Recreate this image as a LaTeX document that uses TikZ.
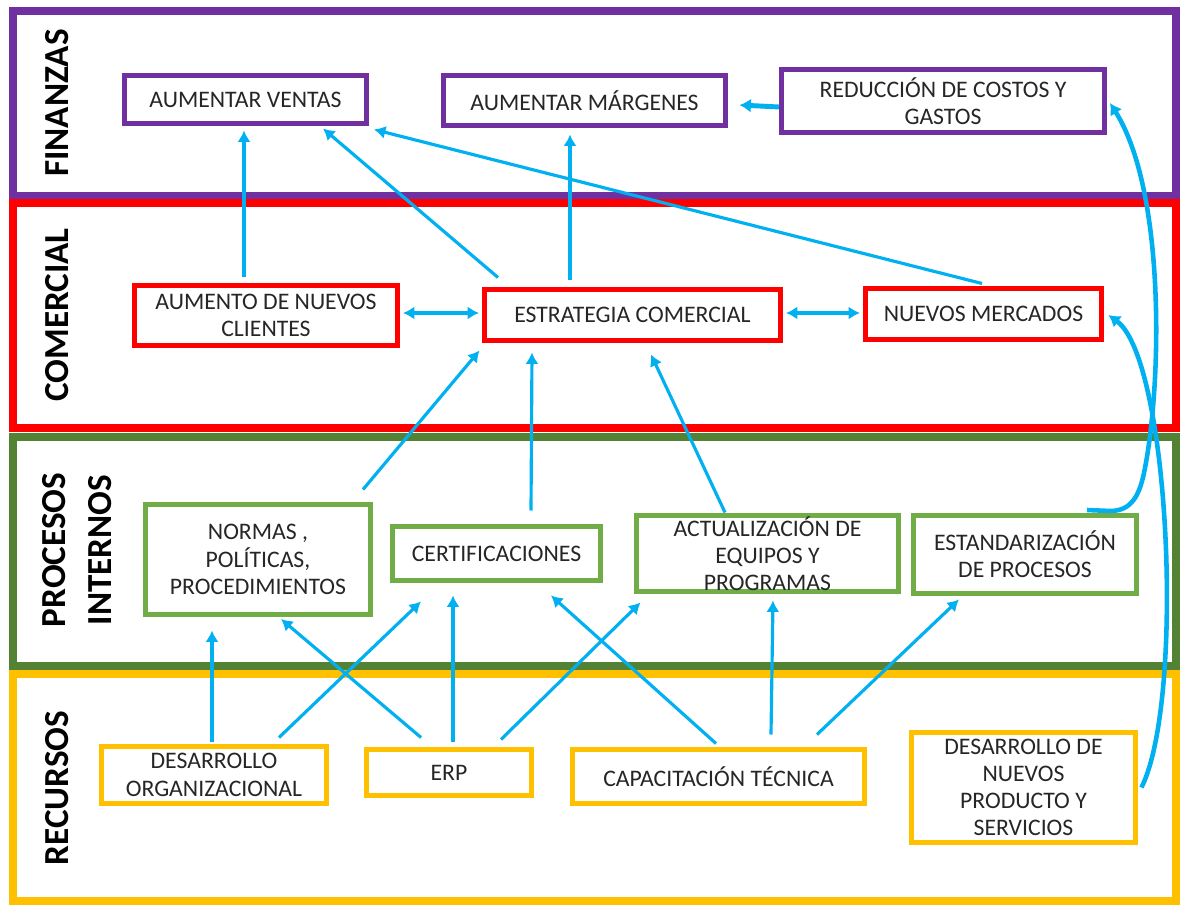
\documentclass[tikz,border=0pt]{standalone}
\usepackage{fontspec}
\setmainfont{Carlito}
\usetikzlibrary{positioning,arrows.meta,calc}
\definecolor{finpurple}{HTML}{7030A0}
\definecolor{comred}{HTML}{FF0000}
\definecolor{procgreen}{HTML}{548235}
\definecolor{boxgreen}{HTML}{70AD47}
\definecolor{resgold}{HTML}{FFC000}
\definecolor{skyblue}{HTML}{00B0F0}
\newcommand{\boxtext}{\fontsize{13.5}{15.5}\selectfont}
\newcommand{\bandtext}{\fontsize{20}{26}\selectfont\bfseries}
\tikzset{
  flowarrow/.style={-{Latex[length=6.5pt,width=7.5pt]}, line width=1.8pt, draw=skyblue},
  bigarrow/.style={-{Latex[length=6.5pt,width=8pt]}, line width=2.8pt, draw=skyblue},
  curvearrow/.style={-{Latex[length=6.5pt,width=8pt]}, line width=2.6pt, draw=skyblue},
  dualarrow/.style={{Latex[length=6.5pt,width=7.5pt]}-{Latex[length=6.5pt,width=7.5pt]}, line width=2.2pt, draw=skyblue},
  goalbox/.style={draw, line width=2.85pt, fill=white, inner sep=0pt, align=center, font=\boxtext, text=black!85},
  finbox/.style={goalbox, draw=finpurple},
  salesbox/.style={goalbox, draw=comred},
  processbox/.style={goalbox, draw=boxgreen},
  resourcebox/.style={goalbox, draw=resgold},
  bandframe/.style={line width=4pt},
  bandlabel/.style={rotate=90, font=\bandtext, align=center}
}
\begin{document}
\begin{tikzpicture}[x=0.02cm, y=-0.02cm]
  \useasboundingbox (0,0) rectangle (1181,905);
  % perspectivas
  \draw[bandframe, draw=finpurple] (13,11) rectangle (1176,196);
  \draw[bandframe, draw=comred] (13,203) rectangle (1176,428);
  \draw[bandframe, draw=procgreen] (13,437) rectangle (1176,666);
  \draw[bandframe, draw=resgold] (13,674) rectangle (1176,901);
  \node[bandlabel] (lblfin) at (57,103) {FINANZAS};
  \node[bandlabel] (lblcom) at (57,315) {COMERCIAL};
  \node[bandlabel] (lblproc) at (77,550) {PROCESOS\\INTERNOS};
  \node[bandlabel] (lblres) at (57,788) {RECURSOS};

  % finanzas
  \node[finbox, minimum width=4.84cm, minimum height=0.96cm] (ventas) at (245.5,99.5) {AUMENTAR VENTAS};
  \node[finbox, minimum width=5.64cm, minimum height=1.0cm] (margenes) at (584.5,100.5) {AUMENTAR MÁRGENES};
  \node[finbox, minimum width=6.46cm, minimum height=1.26cm] (costos) at (943,101) {REDUCCIÓN DE COSTOS Y\\GASTOS};
  % comercial
  \node[salesbox, minimum width=5.26cm, minimum height=1.2cm] (clientes) at (266,315.5) {AUMENTO DE NUEVOS\\CLIENTES};
  \node[salesbox, minimum width=5.92cm, minimum height=1.02cm] (estrategia) at (632.5,315) {ESTRATEGIA COMERCIAL};
  \node[salesbox, minimum width=4.72cm, minimum height=1.02cm] (mercados) at (983.5,314) {NUEVOS MERCADOS};
  % procesos internos
  \node[processbox, minimum width=4.5cm, minimum height=2.2cm] (normas) at (258,559.5) {NORMAS ,\\POLÍTICAS,\\PROCEDIMIENTOS};
  \node[processbox, minimum width=4.16cm, minimum height=1.08cm] (certif) at (496.5,553.5) {CERTIFICACIONES};
  \node[processbox, minimum width=5.24cm, minimum height=1.52cm] (equipos) at (767.5,553.5) {ACTUALIZACIÓN DE\\EQUIPOS Y\\PROGRAMAS};
  \node[processbox, minimum width=4.46cm, minimum height=1.56cm] (estandar) at (1025,554.5) {ESTANDARIZACIÓN\\DE PROCESOS};
  % recursos
  \node[resourcebox, minimum width=4.5cm, minimum height=1.14cm] (desorg) at (214,775) {DESARROLLO\\ORGANIZACIONAL};
  \node[resourcebox, minimum width=3.3cm, minimum height=0.92cm] (erp) at (449,772.5) {ERP};
  \node[resourcebox, minimum width=5.84cm, minimum height=1.08cm] (capac) at (718.5,776.5) {CAPACITACIÓN TÉCNICA};
  \node[resourcebox, minimum width=4.48cm, minimum height=2.2cm] (productos) at (1023.5,787.5) {DESARROLLO DE\\NUEVOS\\PRODUCTO Y\\SERVICIOS};

  % relaciones causa-efecto
  \draw[flowarrow] ($(clientes.north)+(-22,-6)$) -- ($(ventas.south)+(-1.5,4.5)$);
  \draw[flowarrow] ($(estrategia.north)+(-134.5,-9.5)$) -- ($(ventas.south)+(77.5,2.5)$);
  \draw[flowarrow] ($(estrategia.north)+(-62.5,-6.5)$) -- ($(margenes.south)+(-14.5,6.5)$);
  \draw[flowarrow] ($(mercados.north)+(-1.5,-2.5)$) -- ($(ventas.south east)+(5,3.5)$);
  \draw[bigarrow] ($(costos.west)+(0,6)$) -- ($(margenes.east)+(11.5,4.5)$);
  \draw[dualarrow] ($(clientes.east)+(3,-2.5)$) -- ($(estrategia.west)+(-3,-2)$);
  \draw[dualarrow] ($(estrategia.east)+(3,-2)$) -- ($(mercados.west)+(-3,-1)$);
  \draw[flowarrow] ($(normas.north)+(105,-12.5)$) -- ($(estrategia.south west)+(-2.5,7.5)$);
  \draw[flowarrow] ($(certif.north)+(34.5,-13.5)$) -- ($(estrategia.south)+(-100.5,9.5)$);
  \draw[flowarrow] ($(equipos.north)+(-42.5,-0.5)$) -- ($(estrategia.south)+(18.5,11.5)$);
  \draw[curvearrow] ($(estandar.north east)+(-52,-3)$) -- (1110,511)
    .. controls (1132,511) and (1140,495) .. (1145,468)
    .. controls (1162,380) and (1165,190) .. ($(costos.east)+(3,2)$);
  \draw[curvearrow] ($(productos.east)+(3.5,0)$)
    .. controls (1185,700) and (1170,360) .. ($(mercados.east)+(4.5,1)$);
  \draw[flowarrow] ($(desorg.north)+(-2,-2.5)$) -- ($(normas.south)+(-46,13.5)$);
  \draw[flowarrow] ($(desorg.north)+(65,-6.5)$) -- ($(certif.south)+(-75.5,18.5)$);
  \draw[flowarrow] ($(erp.north)+(-28,-9.5)$) -- ($(normas.south)+(23,2)$);
  \draw[flowarrow] ($(erp.north)+(4,-5.5)$) -- ($(certif.south)+(-43.5,12.5)$);
  \draw[flowarrow] ($(erp.north)+(52,-7.5)$) -- ($(equipos.south west)+(6.5,8.5)$);
  \draw[flowarrow] ($(capac.north)+(-2.5,-3.5)$) -- ($(certif.south)+(54.5,12.5)$);
  \draw[flowarrow] ($(capac.north)+(52.5,-12.5)$) -- ($(equipos.south)+(5.5,6.5)$);
  \draw[flowarrow] ($(capac.north)+(98.5,-12.5)$) -- ($(estandar.south)+(-66,3.5)$);
\end{tikzpicture}
\end{document}
